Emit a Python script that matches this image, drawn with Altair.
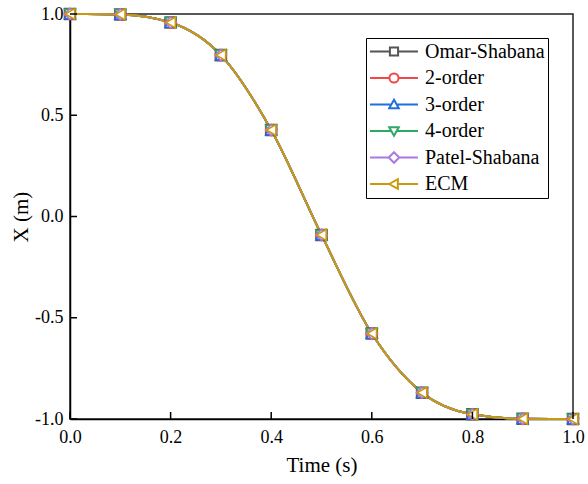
import altair as alt
import pandas as pd

# ---- data ----
time_s = [0.0, 0.1, 0.2, 0.3, 0.4, 0.5, 0.6, 0.7, 0.8, 0.9, 1.0]
omar_shabana = [1.0, 0.998, 0.958, 0.797, 0.427, -0.091, -0.578, -0.870, -0.977, -0.999, -1.0]
order2 = [1.0, 0.998, 0.958, 0.797, 0.427, -0.091, -0.578, -0.870, -0.977, -0.999, -1.0]
order3 = [1.0, 0.998, 0.958, 0.797, 0.427, -0.091, -0.578, -0.870, -0.977, -0.999, -1.0]
order4 = [1.0, 0.998, 0.958, 0.797, 0.427, -0.091, -0.578, -0.870, -0.977, -0.999, -1.0]
patel_shabana = [1.0, 0.998, 0.958, 0.797, 0.427, -0.091, -0.578, -0.870, -0.977, -0.999, -1.0]
ecm = [1.0, 0.998, 0.958, 0.797, 0.427, -0.091, -0.578, -0.870, -0.977, -0.999, -1.0]

methods = ["Omar-Shabana", "2-order", "3-order", "4-order", "Patel-Shabana", "ECM"]
series = [omar_shabana, order2, order3, order4, patel_shabana, ecm]
colors = ["#555555", "#F04848", "#1F6FDD", "#2EA866", "#AC78E0", "#C99A0C"]
shapes = ["square", "circle", "triangle-up", "triangle-down", "diamond", "triangle-left"]
x_ticks = [0.0, 0.2, 0.4, 0.6, 0.8, 1.0]
y_ticks = [-1.0, -0.5, 0.0, 0.5, 1.0]

# legend symbols: line stubs with the marker in the middle
legend_paths = [
    "M-1,0H-0.18M0.18,0H1M-0.17,-0.17H0.17V0.17H-0.17Z",
    "M-1,0H-0.2M0.2,0H1M-0.19,0A0.19,0.19,0,1,1,0.19,0A0.19,0.19,0,1,1,-0.19,0Z",
    "M-1,0H-0.12M0.12,0H1M0,-0.2L0.2,0.16L-0.2,0.16Z",
    "M-1,0H-0.12M0.12,0H1M0,0.2L0.2,-0.16L-0.2,-0.16Z",
    "M-1,0H-0.22M0.22,0H1M0,-0.22L0.22,0L0,0.22L-0.22,0Z",
    "M-1,0H-0.2M0.2,0H1M-0.2,0L0.16,-0.2L0.16,0.2Z",
]

rows = []
for m, vals in zip(methods, series):
    for t, v in zip(time_s, vals):
        rows.append({"time": t, "x": v, "method": m})
df = pd.DataFrame(rows)

W, H = 503, 405
FONT = "Liberation Serif"
LBL = "replace(format(datum.value, '.1f'), '\u2212', '-')"

xscale = alt.Scale(domain=[0, 1], nice=False, zero=False)
yscale = alt.Scale(domain=[-1, 1], nice=False, zero=False)

xaxis = alt.Axis(title="Time (s)", values=x_ticks, labelExpr=LBL, tickSize=0,
                 labelPadding=9, labelFont=FONT, labelFontSize=18, labelColor="black",
                 titleFont=FONT, titleFontSize=21, titleFontWeight="normal", titleColor="black",
                 titleY=52, titleBaseline="alphabetic",
                 domainColor="black", domainWidth=1.5, grid=False, labelFlush=False)
yaxis = alt.Axis(title="X (m)", values=y_ticks, labelExpr=LBL, tickSize=0,
                 labelPadding=7, labelFont=FONT, labelFontSize=18, labelColor="black",
                 titleFont=FONT, titleFontSize=21, titleFontWeight="normal", titleColor="black",
                 titleX=-43, titleBaseline="alphabetic",
                 domainColor="black", domainWidth=1.5, grid=False, labelFlush=False)

base = alt.Chart(df)

layers = []
layers.append(
    base.mark_point(opacity=0).encode(
        x=alt.X("time:Q", scale=xscale, axis=xaxis),
        y=alt.Y("x:Q", scale=yscale, axis=yaxis),
    ).transform_filter("false")
)

for m, c in zip(methods, colors):
    layers.append(
        base.transform_filter(alt.datum.method == m).mark_line(
            color=c, strokeWidth=2, interpolate="monotone"
        ).encode(x=alt.X("time:Q", scale=xscale), y=alt.Y("x:Q", scale=yscale))
    )

for m, c, s in zip(methods, colors, shapes):
    layers.append(
        base.transform_filter(alt.datum.method == m).mark_point(
            shape=s, size=120, stroke=c, strokeWidth=1.6, fill="white",
            filled=False, opacity=1, fillOpacity=1
        ).encode(x=alt.X("time:Q", scale=xscale), y=alt.Y("x:Q", scale=yscale))
    )

# inward ticks
xt = pd.DataFrame({"t": x_ticks})
yt = pd.DataFrame({"v": y_ticks})
layers.append(
    alt.Chart(xt).mark_rule(color="black", strokeWidth=1.5).encode(
        x=alt.X("t:Q", scale=xscale), y=alt.value(H), y2=alt.value(H - 7)
    )
)
layers.append(
    alt.Chart(yt).mark_rule(color="black", strokeWidth=1.5).encode(
        y=alt.Y("v:Q", scale=yscale), x=alt.value(0), x2=alt.value(7)
    )
)

legend = alt.Legend(
    title=None, orient="none", legendX=296, legendY=24,
    labelFont=FONT, labelFontSize=20, labelColor="black", labelOffset=6,
    symbolStrokeWidth=2, symbolSize=2304, clipHeight=21, rowPadding=5.5,
    padding=3, strokeColor="black", fillColor="white", symbolOpacity=1,
    symbolFillColor="transparent", labelLimit=300,
)
layers.append(
    base.mark_point(filled=False, opacity=1, strokeWidth=2).encode(
        x=alt.X("time:Q", scale=xscale),
        y=alt.Y("x:Q", scale=yscale),
        color=alt.Color("method:N", scale=alt.Scale(domain=methods, range=colors), legend=legend),
        shape=alt.Shape("method:N", scale=alt.Scale(domain=methods, range=legend_paths), legend=legend),
    ).transform_filter("false")
)

chart = alt.layer(*layers).properties(
    width=W, height=H,
    background="white",
    autosize=alt.AutoSizeParams(type="none"),
    padding={"left": 70, "top": 14, "right": 15, "bottom": 65},
).configure(font=FONT).configure_view(stroke="#222222", strokeWidth=1.5)

chart.save("out.html", embed_options={"renderer": "svg", "actions": False})
